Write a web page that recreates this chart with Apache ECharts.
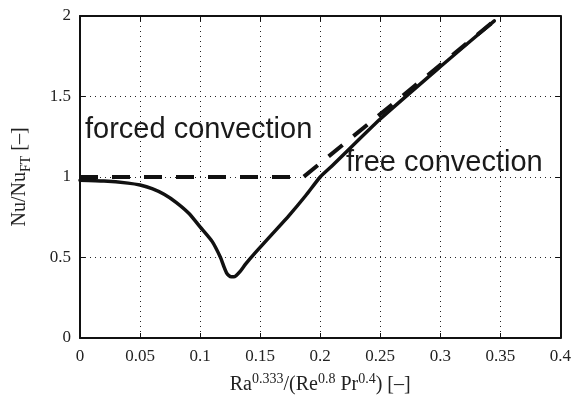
<!DOCTYPE html>
<html>
<head>
<meta charset="utf-8">
<script src="https://cdn.jsdelivr.net/npm/echarts@6/dist/echarts.min.js"></script>
<style>
  html, body { margin: 0; padding: 0; background: #fff; }
  #chart { width: 574px; height: 404px; }
</style>
</head>
<body>
<div id="chart"></div>
<script>
// measured curve: Nu/Nu_FT against the mixed-convection parameter
const mixedX = [0, 0.02, 0.04, 0.05, 0.06, 0.07, 0.08, 0.091, 0.1, 0.11, 0.117, 0.12, 0.122, 0.124,
  0.126, 0.128, 0.13, 0.133, 0.138, 0.146, 0.16, 0.174, 0.188, 0.2, 0.21, 0.25, 0.3, 0.345];
const mixedY = [0.98, 0.975, 0.962, 0.95, 0.928, 0.893, 0.843, 0.772, 0.69, 0.6, 0.5, 0.44, 0.405, 0.387,
  0.38, 0.38, 0.388, 0.41, 0.46, 0.53, 0.645, 0.76, 0.885, 1.0, 1.07, 1.36, 1.685, 1.97];
// asymptotes: forced convection (flat) and free convection (linear)
const limitX = [0, 0.186, 0.345];
const limitY = [1.0, 1.0, 1.97];

const xTicks = { min: 0, max: 0.4, interval: 0.05 };
const yTicks = { min: 0, max: 2, interval: 0.5 };

const pairs = (xs, ys) => xs.map((x, i) => [x, ys[i]]);

const serif = 'Liberation Serif';
const ink = '#111';

const frameAxis = (extra) => Object.assign({
  type: 'value',
  axisLine: { show: true, onZero: false, lineStyle: { color: ink, width: 2 } },
  axisTick: { show: true, inside: true, length: 5, lineStyle: { color: ink, width: 1 } },
  splitLine: { show: false },
  axisLabel: { show: false }
}, extra);

const chart = echarts.init(document.getElementById('chart'), null, { renderer: 'canvas' });

chart.setOption({
  animation: false,
  backgroundColor: '#fff',
  grid: { left: 80, right: 11, top: 16, bottom: 66 },
  xAxis: [
    frameAxis(Object.assign({}, xTicks, {
      position: 'bottom',
      splitLine: { show: true, lineStyle: { color: '#222', width: 1, type: [1, 4] } },
      axisLabel: {
        show: true, margin: 10, color: '#222', fontFamily: serif, fontSize: 17,
        formatter: (v) => String(+v.toFixed(2))
      },
      name: '{n|Ra}{s|0.333}{n|/(Re}{s|0.8}{n| Pr}{s|0.4}{n|) [\u2013]}',
      nameLocation: 'middle',
      nameGap: 35,
      nameTextStyle: {
        rich: {
          n: { fontFamily: serif, fontSize: 20, color: '#222', verticalAlign: 'bottom', lineHeight: 22 },
          s: { fontFamily: serif, fontSize: 14, color: '#222', verticalAlign: 'bottom', lineHeight: 14, padding: [0, 0, 9, 0] }
        }
      }
    })),
    frameAxis(Object.assign({}, xTicks, { position: 'top' }))
  ],
  yAxis: [
    frameAxis(Object.assign({}, yTicks, {
      position: 'left',
      splitLine: { show: true, lineStyle: { color: '#222', width: 1, type: [1, 4] } },
      axisLabel: { show: true, margin: 9, color: '#222', fontFamily: serif, fontSize: 17 },
      name: '{n|Nu/Nu}{b|FT}{n| [\u2013]}',
      nameLocation: 'middle',
      nameRotate: 90,
      nameGap: 48,
      nameTextStyle: {
        rich: {
          n: { fontFamily: serif, fontSize: 20, color: '#222', verticalAlign: 'top', lineHeight: 22 },
          b: { fontFamily: serif, fontSize: 14, color: '#222', verticalAlign: 'top', lineHeight: 14, padding: [9, 0, 0, 0] }
        }
      }
    })),
    frameAxis(Object.assign({}, yTicks, { position: 'right' }))
  ],
  graphic: [
    {
      type: 'text', left: 85, top: 115, silent: true,
      style: { text: 'forced convection', fill: '#1a1a1a', font: '29px "Liberation Sans", Arial, sans-serif' }
    },
    {
      type: 'text', left: 346, top: 148, silent: true,
      style: { text: 'free convection', fill: '#1a1a1a', font: '29px "Liberation Sans", Arial, sans-serif' }
    }
  ],
  series: [
    {
      name: 'limits',
      type: 'line',
      data: pairs(limitX, limitY),
      showSymbol: false,
      lineStyle: { color: ink, width: 4, type: [18, 14] },
      z: 3
    },
    {
      name: 'mixed',
      type: 'line',
      data: pairs(mixedX, mixedY),
      showSymbol: false,
      smooth: 0.2,
      lineStyle: { color: ink, width: 3.5, join: 'round', cap: 'round' },
      z: 4
    }
  ]
});
</script>
</body>
</html>
